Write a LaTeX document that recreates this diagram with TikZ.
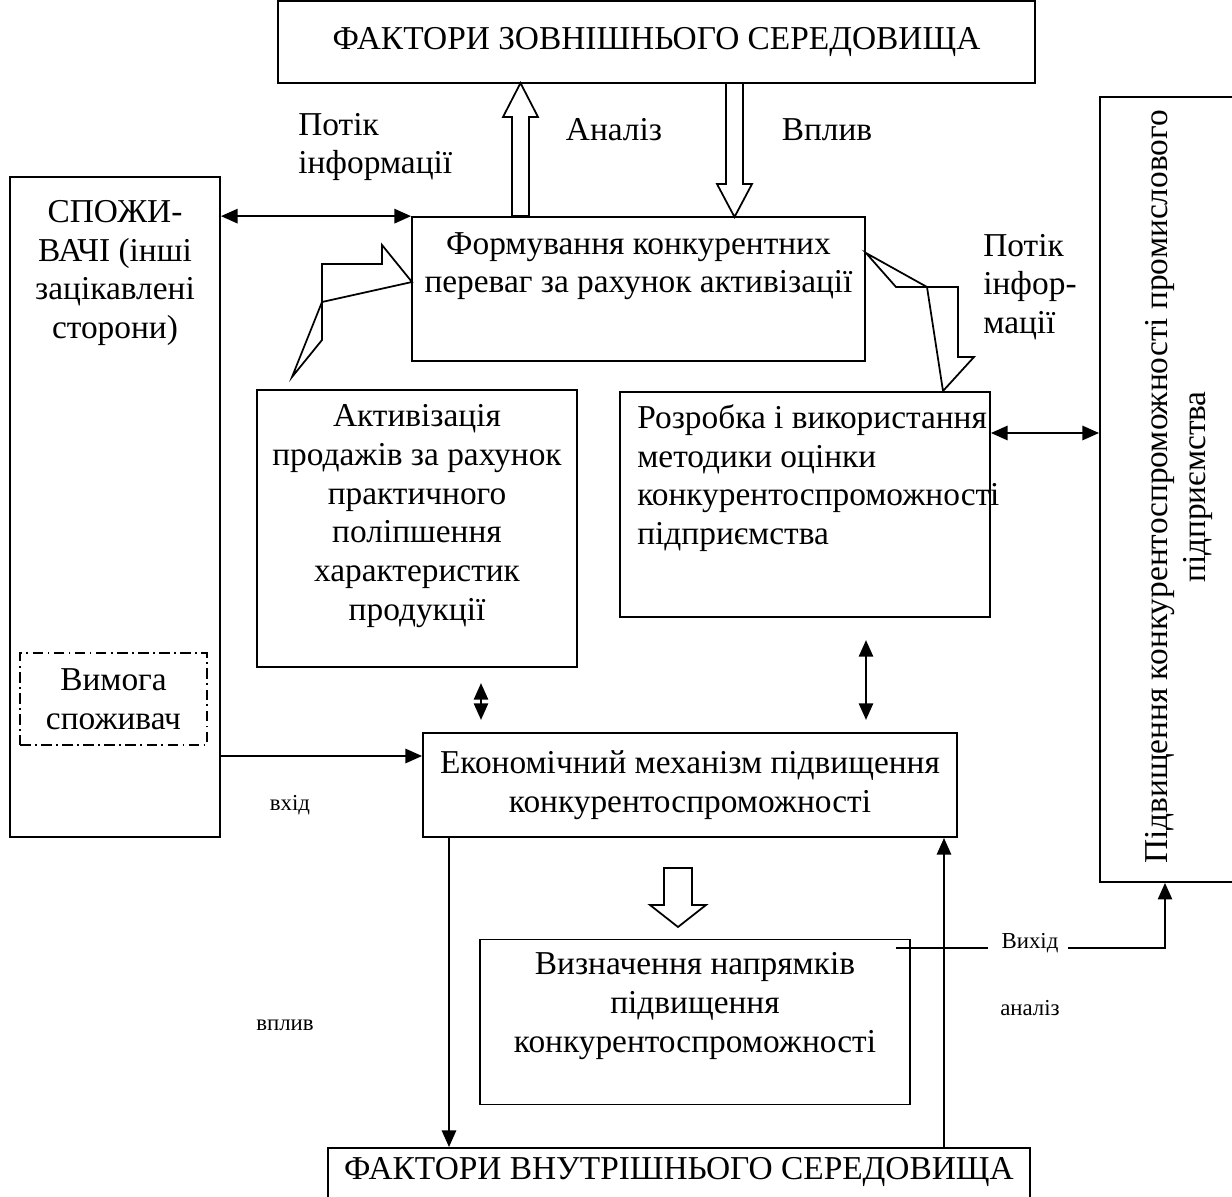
\documentclass[tikz,border=0pt]{standalone}
\usepackage{fontspec}
\setmainfont{Liberation Serif}
\usetikzlibrary{arrows.meta}

\tikzset{
  blok/.style={draw, line width=1pt, inner sep=0pt},
  napys/.style={align=center, font=\fontsize{19}{22}\selectfont, inner sep=0pt},
  malyj/.style={font=\fontsize{13}{15}\selectfont, inner sep=0pt},
  strilka/.style={line width=1.5pt, -{Triangle[length=9.5pt,width=8pt]}},
  dvi/.style={line width=1.5pt, {Triangle[length=9.5pt,width=8pt]}-{Triangle[length=9.5pt,width=8pt]}},
  porozhnia/.style={line width=1pt, fill=white},
}

\begin{document}
\begin{tikzpicture}[x=0.02cm, y=-0.02cm]
\useasboundingbox (0,0) rectangle (1232,1197);

% зовнішнє середовище
\node[blok, napys, minimum width=15.14cm, minimum height=1.64cm] (zovn) at (656.5,42) {ФАКТОРИ ЗОВНІШНЬОГО СЕРЕДОВИЩА};

% споживачі
\node[blok, minimum width=4.2cm, minimum height=13.2cm] (spoz) at (115,507) {};
\node[napys, anchor=north] (spoztext) at (115,200) {СПОЖИ-\\ВАЧІ (інші\\зацікавлені\\сторони)};
\node[blok, napys, dash pattern=on 6pt off 2.5pt on 1pt off 2.5pt, minimum width=3.74cm, minimum height=1.84cm] (vymoga) at (113.5,699) {Вимога\\споживач};

% блоки середини
\node[blok, minimum width=9.06cm, minimum height=2.88cm] (form) at (638.5,289) {};
\node[napys, anchor=north] (formtext) at (638.5,232) {Формування конкурентних\\переваг за рахунок активізації};

\node[blok, minimum width=6.4cm, minimum height=5.54cm] (aktyv) at (417,528.5) {};
\node[napys] (aktyvtext) at (417,516) {Активізація\\продажів за рахунок\\практичного\\поліпшення\\характеристик\\продукції};

\node[blok, minimum width=7.4cm, minimum height=4.5cm] (rozr) at (805,504.5) {};
\node[napys, align=left, anchor=west] (rozrtext) at (637,478) {Розробка і використання\\методики оцінки\\конкурентоспроможності\\підприємства};

% підвищення (вертикальний)
\node[blok, minimum width=2.8cm, minimum height=15.7cm] (pidv) at (1170,489.5) {};
\node[napys, rotate=90] (pidvtext) at (1179,487) {Підвищення конкурентоспроможності промислового\\підприємства};

% механізм
\node[blok, napys, minimum width=10.68cm, minimum height=2.08cm] (econ) at (690,785) {Економічний механізм підвищення\\конкурентоспроможності};

\node[blok, minimum width=8.6cm, minimum height=3.3cm] (vyzn) at (695,1022) {};
\node[napys] (vyzntext) at (695,1006) {Визначення напрямків\\підвищення\\конкурентоспроможності};

% внутрішнє середовище
\node[blok, minimum width=14.04cm, minimum height=1.64cm] (vnutr) at (679,1189) {};
\node[napys] (vnutrtext) at (679,1172) {ФАКТОРИ ВНУТРІШНЬОГО СЕРЕДОВИЩА};

% підписи
\node[napys, align=left, anchor=west] (potik1) at (298,147) {Потік\\інформації};
\node[napys] (analiz) at (614,130) {Аналіз};
\node[napys] (vplyv) at (827,130) {Вплив};
\node[napys, align=left, anchor=west] (potik2) at (983,287) {Потік\\інфор-\\мації};
\node[malyj] (vkhid) at (290,805) {вхід};
\node[malyj] (vplyv2) at (285,1025) {вплив};
\node[malyj] (vykhid) at (1030,943) {Вихід};
\node[malyj] (analiz2) at (1030,1008) {аналіз};

% точки стрілок
\coordinate (m1) at (481,683);
\coordinate (m2) at (481,720);
\coordinate (r1) at (866,640);
\coordinate (r2) at (866,720);
\coordinate (v1) at (988,948);
\coordinate (v2) at (1068,948);

% стрілки
\draw[dvi] (spoz.east |- form.north) -- (form.north west);
\draw[strilka] (spoz.east |- 0,756) -- (econ.west |- 0,756);
\draw[dvi] (m1) -- (m2);
\draw[dvi] (r1) -- (r2);
\draw[dvi] (rozr.east |- 0,433) -- (pidv.west |- 0,433);
\draw[strilka] (econ.south -| 449,0) -- (vnutr.north -| 449,0);
\draw[strilka] (vnutr.north -| 944,0) -- (econ.south -| 944,0);
\draw[line width=1pt] (vyzn.east |- v1) ++(-15,0) -- (v1);
\draw[strilka] (v2) -| (pidv.south -| 1165,0);

% порожні стрілки
\draw[porozhnia] (512,216) -- (512,117) -- (503,117) -- (520.5,83) -- (538,117) -- (529,117) -- (529,216) -- cycle;
\draw[porozhnia] (726,83) -- (726,184) -- (717,184) -- (734.5,217) -- (752,184) -- (743,184) -- (743,83) -- cycle;
\draw[porozhnia] (664,868) -- (664,905) -- (650,905) -- (678,927) -- (706,905) -- (692,905) -- (692,868) -- cycle;

% ламані стрілки
\draw[line width=1pt] (322,264) -- (382,264) -- (382,245) -- (412,282) -- (322,302) -- (292,377) -- (322,340) -- cycle;
\draw[line width=1pt] (866,253) -- (896,287) -- (958,287) -- (958,357) -- (974,357) -- (943,391) -- (927,287) -- cycle;

\end{tikzpicture}
\end{document}
